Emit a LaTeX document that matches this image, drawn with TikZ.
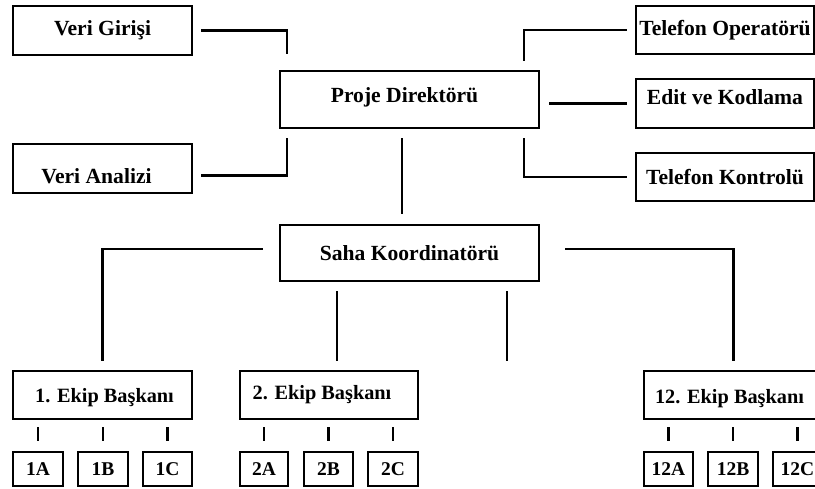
\documentclass[tikz,border=0pt]{standalone}
\usepackage{fontspec}
\setmainfont{Liberation Serif}
\usetikzlibrary{calc}

% shift the printed text of a node by (dx,dy) without changing the node's size
\newcommand{\nudge}[3]{\kern#1\raisebox{#2}[\height][\depth]{#3}\kern-#1}

\begin{document}
\begin{tikzpicture}[x=1pt,y=-1pt,
  box/.style={draw, line width=2.1pt, inner sep=0pt,
    minimum width=179pt, minimum height=49pt,
    font=\fontsize{21.6}{25}\selectfont\bfseries},
  lead/.style={box, font=\fontsize{20.3}{24}\selectfont\bfseries},
  cell/.style={box, minimum width=49pt, minimum height=34pt,
    font=\fontsize{19.5}{22}\selectfont\bfseries},
  link/.style={line width=2.1pt}]

\useasboundingbox (0,0) rectangle (815,488);
\clip (0,0) rectangle (815,488);

% top level
\node[box] (vg) at (102.5,30.5) {Veri Girişi};
\node[box] (va) at (102.5,168.5) {\nudge{-6pt}{-8pt}{Veri Analizi}};
\node[box, minimum width=259pt, minimum height=57pt] (pd) at (409.5,99.5) {\nudge{-5pt}{2pt}{Proje Direktörü}};
\node[box, minimum width=178pt, minimum height=48pt] (to) at (725,30) {Telefon Operatörü};
\node[box, minimum width=178pt] (ek) at (725,103.5) {\nudge{0pt}{6pt}{Edit ve Kodlama}};
\node[box, minimum width=178pt, minimum height=48pt] (tk) at (725,177) {Telefon Kontrolü};

% field level
\node[box, minimum width=259pt, minimum height=56pt] (sk) at (409.5,253) {Saha Koordinatörü};
\node[lead, minimum height=48pt] (e1) at (102.5,395) {\nudge{2pt}{-3pt}{1. Ekip Başkanı}};
\node[lead, minimum width=178pt, minimum height=48pt] (e2) at (329,395) {\nudge{-7pt}{0pt}{2. Ekip Başkanı}};
\node[lead, minimum height=48pt] (e12) at (733.5,395) {\nudge{-4pt}{-4pt}{12. Ekip Başkanı}};

% teams
\node[cell, minimum width=50pt] (c1a) at (38,469) {1A};
\node[cell, minimum width=50pt] (c1b) at (103,469) {1B};
\node[cell] (c1c) at (167.5,469) {1C};
\node[cell, minimum width=48pt] (c2a) at (264,469) {2A};
\node[cell] (c2b) at (328.5,469) {2B};
\node[cell, minimum width=50pt] (c2c) at (393,469) {2C};
\node[cell] (c12a) at (668.5,469) {12A};
\node[cell, minimum width=50pt] (c12b) at (733,469) {12B};
\node[cell] (c12c) at (797.5,469) {12C};

% connectors around the project director
\draw[link] ($(vg.east)+(8,0)$) -| ($(pd.north west)+(8,-16)$);
\draw[link] ($(va.east)+(8,7)$) -| ($(pd.south west)+(8,9)$);
\draw[link] ($(pd.north east)+(-16,-9)$) |- ($(to.west)+(-8,0)$);
\draw[link] ($(pd.east |- ek.west)+(9,0)$) -- ($(ek.west)+(-8,0)$);
\draw[link] ($(pd.south east)+(-16,9)$) |- ($(tk.west)+(-8,0)$);
\draw[link] ($(pd.south)+(-7.5,9)$) -- ($(sk.north)+(-7.5,-10)$);

% connectors below the field coordinator
\draw[link] ($(sk.west)+(-16,-4)$) -| ($(e1.north)+(0,-9)$);
\draw[link] ($(sk.east)+(25,-4)$) -| ($(e12.north)+(0,-9)$);
\draw[link] ($(e2.north |- sk.south)+(8,9)$) -- ($(e2.north)+(8,-9)$);
\coordinate (more) at ($(e2.north)+(178,-9)$);
\draw[link] ($(more |- sk.south)+(0,9)$) -- (more);

% short ticks above the team boxes
\foreach \c in {c1a,c1b,c1c,c2a,c2b,c2c,c12a,c12b,c12c}
  \draw[link] ($(\c.north)+(0,-10)$) -- ($(\c.north)+(0,-24)$);

\end{tikzpicture}
\end{document}
